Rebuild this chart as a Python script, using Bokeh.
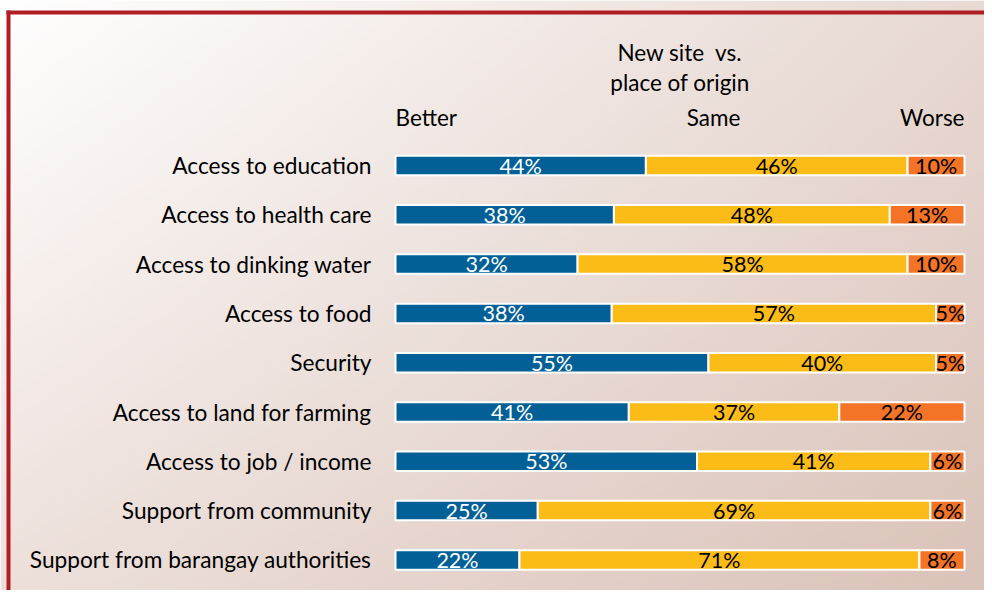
import numpy as np
from bokeh.plotting import figure
from bokeh.models import Range1d
from bokeh.core.properties import value
from bokeh.embed import file_html
from bokeh.resources import INLINE

# ---------------- data ----------------
categories = [
    "Access to education",
    "Access to health care",
    "Access to dinking water",
    "Access to food",
    "Security",
    "Access to land for farming",
    "Access to job / income",
    "Support from community",
    "Support from barangay authorities",
]
better = [44, 38, 32, 38, 55, 41, 53, 25, 22]
same = [46, 48, 58, 57, 40, 37, 41, 69, 71]
worse = [10, 13, 10, 5, 5, 22, 6, 6, 8]
series_names = ["Better", "Same", "Worse"]
title_lines = ["New site\u00a0 vs.", "place of origin"]

# ---------------- layout (pixels) ----------------
W, H = 984, 590
BAR_X0 = 395.0        # canvas px of 0 %
PX_PER_PCT = 5.69
ROW0 = 165.0          # canvas px of first row centre
ROW_STEP = 49.3

x_start = -BAR_X0 / PX_PER_PCT
x_end = (W - BAR_X0) / PX_PER_PCT
y_top = ROW0 / ROW_STEP
y_bot = -(H - ROW0) / ROW_STEP


def px_x(px):
    return x_start + px / PX_PER_PCT


def px_y(py):
    return (ROW0 - py) / ROW_STEP


FONT = value("Lato")
BLUE = "#036097"
YELLOW = "#FBBC18"
ORANGE = "#F37327"
RED = "#B01E24"

p = figure(width=W, height=H, x_range=Range1d(x_start, x_end),
           y_range=Range1d(y_bot, y_top), min_border=0,
           toolbar_location=None, output_backend="svg",
           x_axis_location=None, y_axis_location=None)
p.grid.visible = False
p.outline_line_color = None
p.background_fill_color = "white"
p.border_fill_color = "white"

# background gradient (decoration)
ny, nx = 120, 200
u = np.linspace(0, 1, nx)[None, :]
v = np.linspace(0, 1, ny)[:, None]      # row 0 = bottom
tl = np.array([255, 255, 255.0])
tr = np.array([232, 217, 211.0])
bl = np.array([237, 224, 219.0])
br = np.array([218, 195, 185.0])
top = tl[None, None, :] * (1 - u[..., None]) + tr[None, None, :] * u[..., None]
bot = bl[None, None, :] * (1 - u[..., None]) + br[None, None, :] * u[..., None]
col = bot * (1 - v[..., None]) + top * v[..., None]
img = np.zeros((ny, nx), dtype=np.uint32)
view = img.view(dtype=np.uint8).reshape((ny, nx, 4))
view[..., 0] = col[..., 0].astype(np.uint8)
view[..., 1] = col[..., 1].astype(np.uint8)
view[..., 2] = col[..., 2].astype(np.uint8)
view[..., 3] = 255
p.image_rgba(image=[img], x=x_start, y=y_bot, dw=x_end - x_start, dh=y_top - y_bot)

# red frame (left + top)
p.quad(left=[px_x(6), px_x(6)], right=[px_x(10), x_end],
       top=[px_y(10), px_y(10)], bottom=[y_bot, px_y(14)],
       fill_color=RED, line_color=None)

# ---------------- bars ----------------
rows = [-i for i in range(len(categories))]
tot = [b + s + w for b, s, w in zip(better, same, worse)]
b_r = [100.0 * b / t for b, t in zip(better, tot)]
s_r = [100.0 * (b + s) / t for b, s, t in zip(better, same, tot)]
w_r = [100.0 for _ in tot]

H_BAR = 19.5 / ROW_STEP
p.hbar(y=rows, left=0, right=b_r, height=H_BAR, fill_color=BLUE,
       line_color="white", line_width=2)
p.hbar(y=rows, left=b_r, right=s_r, height=H_BAR, fill_color=YELLOW,
       line_color="white", line_width=2)
p.hbar(y=rows, left=s_r, right=w_r, height=H_BAR, fill_color=ORANGE,
       line_color="white", line_width=2)

LBL = "21.5px"
p.text(x=[r / 2 for r in b_r], y=rows, text=[f"{v}%" for v in better],
       text_align="center", text_baseline="middle",
       text_font=FONT, text_font_size=LBL, text_color="white")
p.text(x=[(a + b) / 2 for a, b in zip(b_r, s_r)], y=rows,
       text=[f"{v}%" for v in same], text_align="center",
       text_baseline="middle", text_font=FONT,
       text_font_size=LBL, text_color="black")
p.text(x=[(a + b) / 2 for a, b in zip(s_r, w_r)], y=rows,
       text=[f"{v}%" for v in worse], text_align="center",
       text_baseline="middle", text_font=FONT,
       text_font_size=LBL, text_color="black")

# category labels
p.text(x=[px_x(371)] * len(categories), y=rows, text=categories,
       text_align="right", text_baseline="middle",
       text_font=FONT, text_font_size="22.7px", text_color="black")

# header
hy = px_y(117)
p.text(x=[0, 55.9, 100], y=[hy] * 3, text=series_names,
       text_align=["left", "center", "right"], text_baseline="middle",
       text_font=FONT, text_font_size="22.5px", text_color="black")
p.text(x=[50, 50], y=[px_y(52), px_y(82)], text=title_lines,
       text_align="center", text_baseline="middle", text_font=FONT,
       text_font_size="22.5px", text_color="black")

open("out.html", "w").write(file_html(p, INLINE))
